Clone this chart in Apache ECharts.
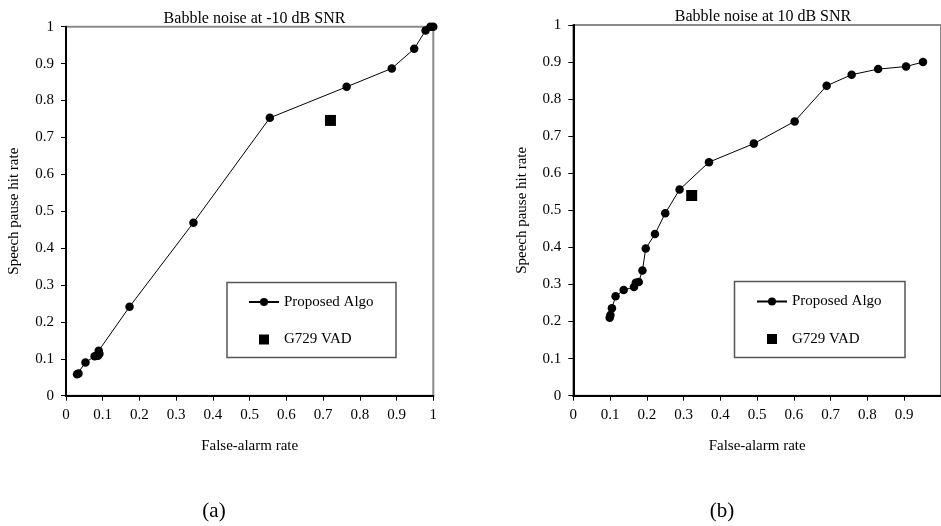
<!DOCTYPE html>
<html><head><meta charset="utf-8">
<script src="https://cdn.jsdelivr.net/npm/echarts@6/dist/echarts.min.js"></script>
<style>html,body{margin:0;padding:0;background:#fff}#c{width:941px;height:526px}</style>
</head><body><div id="c"></div>
<script>
// ---- data ----
const titles = ['Babble noise at -10 dB SNR', 'Babble noise at 10 dB SNR'];
const xAxisName = 'False-alarm rate';
const yAxisName = 'Speech pause hit rate';
const seriesNames = ['Proposed Algo', 'G729 VAD'];
const subcaptions = ['(a)', '(b)'];
const tickLabels = ['0', '0.1', '0.2', '0.3', '0.4', '0.5', '0.6', '0.7', '0.8', '0.9', '1'];

// (a) Babble noise at -10 dB SNR: [false-alarm rate, hit rate]
const proposedA = [
  [0.030, 0.058], [0.034, 0.060], [0.053, 0.090], [0.078, 0.107], [0.087, 0.108],
  [0.091, 0.114], [0.089, 0.122], [0.173, 0.241], [0.347, 0.469], [0.555, 0.753],
  [0.764, 0.837], [0.887, 0.887], [0.948, 0.940], [0.979, 0.990], [0.992, 1.0], [1.0, 1.0]
];
const g729A = [[0.720, 0.746]];

// (b) Babble noise at 10 dB SNR
const proposedB = [
  [0.099, 0.210], [0.101, 0.218], [0.105, 0.236], [0.115, 0.268], [0.137, 0.285],
  [0.165, 0.293], [0.170, 0.305], [0.178, 0.307], [0.188, 0.338], [0.197, 0.397],
  [0.222, 0.436], [0.250, 0.492], [0.289, 0.556], [0.369, 0.630], [0.491, 0.680],
  [0.602, 0.740], [0.689, 0.836], [0.757, 0.866], [0.829, 0.881], [0.905, 0.888],
  [0.951, 0.900]
];
const g729B = [[0.322, 0.540]];

// ---- chart ----
const FONT = 'Liberation Serif';
const chart = echarts.init(document.getElementById('c'), null, {renderer: 'canvas'});
const fmt = v => tickLabels[Math.round(v * 10)];

function xAxis(gi, hideMax) {
  return {
    type: 'value', gridIndex: gi, min: 0, max: 1, interval: 0.1,
    name: xAxisName, nameLocation: 'middle', nameGap: 43,
    nameTextStyle: {fontFamily: FONT, fontSize: 15, color: '#000'},
    axisLine: {show: true, lineStyle: {color: '#000', width: 2}},
    axisTick: {show: true, length: 5, lineStyle: {color: '#000', width: 1}},
    axisLabel: {fontFamily: FONT, fontSize: 15, color: '#000', margin: 12, formatter: fmt, showMaxLabel: !hideMax},
    splitLine: {show: false}
  };
}
function yAxis(gi) {
  return {
    type: 'value', gridIndex: gi, min: 0, max: 1, interval: 0.1,
    name: yAxisName, nameLocation: 'middle', nameGap: 44, nameRotate: 90,
    nameTextStyle: {fontFamily: FONT, fontSize: 15, color: '#000'},
    axisLine: {show: true, lineStyle: {color: '#000', width: 2}},
    axisTick: {show: true, length: 5, lineStyle: {color: '#000', width: 1}},
    axisLabel: {fontFamily: FONT, fontSize: 15, color: '#000', margin: 12, formatter: fmt},
    splitLine: {show: false}
  };
}
function lineSeries(i, data) {
  return {
    name: seriesNames[0], type: 'line', xAxisIndex: i, yAxisIndex: i, data: data,
    symbol: 'circle', symbolSize: 8.5, showAllSymbol: true,
    itemStyle: {color: '#000', opacity: 1}, lineStyle: {color: '#000', width: 1}, z: 3
  };
}
function scatterSeries(i, data) {
  return {
    name: seriesNames[1], type: 'scatter', xAxisIndex: i, yAxisIndex: i, data: data,
    symbol: 'rect', symbolSize: 11, itemStyle: {color: '#000', opacity: 1}, z: 3
  };
}
function legend(left, top) {
  return {
    left: left, top: top, orient: 'vertical', itemWidth: 30, itemHeight: 10, itemGap: 22.5,
    selectedMode: false, padding: 0,
    textStyle: {fontFamily: FONT, fontSize: 15, color: '#000'},
    data: [{name: seriesNames[0]}, {name: seriesNames[1], icon: 'path://M0,0L10,0L10,10L0,10Z', itemStyle: {color: '#000', opacity: 1}}]
  };
}

chart.setOption({
  animation: false,
  backgroundColor: '#fff',
  title: [
    {text: titles[0], left: 249.5, top: 6, textAlign: 'center',
     textStyle: {fontFamily: FONT, fontSize: 16, fontWeight: 'normal', color: '#000'}},
    {text: titles[1], left: 758, top: 4, textAlign: 'center',
     textStyle: {fontFamily: FONT, fontSize: 16, fontWeight: 'normal', color: '#000'}}
  ],
  grid: [
    {left: 66, top: 26.7, width: 367.3, height: 369, show: true, borderColor: '#8a8a8a', borderWidth: 2},
    {left: 573.3, top: 25, width: 370, height: 370.7, show: true, borderColor: '#8a8a8a', borderWidth: 2}
  ],
  xAxis: [xAxis(0, false), xAxis(1, true)],
  yAxis: [yAxis(0), yAxis(1)],
  legend: [legend(248, 294.5), legend(756, 294)],
  series: [lineSeries(0, proposedA), scatterSeries(0, g729A), lineSeries(1, proposedB), scatterSeries(1, g729B)],
  graphic: [
    {type: 'rect', shape: {x: 227, y: 282.5, width: 169, height: 75}, style: {fill: 'none', stroke: '#555', lineWidth: 1.5}, z: 1},
    {type: 'rect', shape: {x: 734.5, y: 281.5, width: 170.5, height: 76}, style: {fill: 'none', stroke: '#555', lineWidth: 1.5}, z: 1},
    {type: 'text', x: 214, y: 511, style: {text: subcaptions[0], font: '21px "Liberation Serif"', fill: '#000', textAlign: 'center', textVerticalAlign: 'middle'}},
    {type: 'text', x: 722, y: 511, style: {text: subcaptions[1], font: '21px "Liberation Serif"', fill: '#000', textAlign: 'center', textVerticalAlign: 'middle'}}
  ]
});
</script>
</body></html>
